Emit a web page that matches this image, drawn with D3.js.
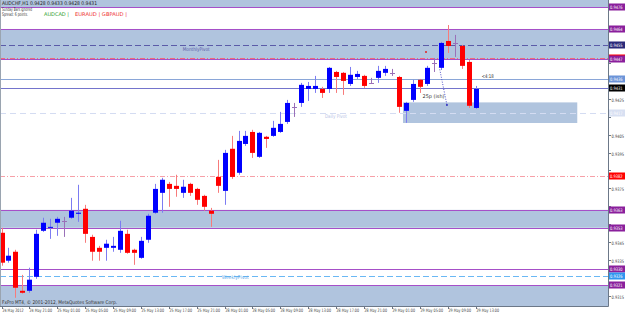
<!DOCTYPE html>
<html><head><meta charset="utf-8">
<script src="https://cdn.jsdelivr.net/npm/d3@7"></script>
<style>body{margin:0;background:#fff}svg{display:block}text{font-family:"DejaVu Sans",sans-serif}</style>
</head><body><svg id="c" width="625" height="313"></svg>
<script>
// ---- data (AUDCHF H1) ----
const open  = [0.93502,0.93346,0.93396,0.93178,0.93178,0.93256,0.93513,0.93530,0.93558,0.93569,0.93586,0.93608,0.93636,0.93479,0.93418,0.93418,0.93418,0.93407,0.93496,0.93407,0.93362,0.93463,0.93614,0.93725,0.93775,0.93764,0.93725,0.93775,0.93747,0.93708,0.93625,0.93814,0.93736,0.93971,0.93837,0.93998,0.94065,0.93926,0.94038,0.94043,0.94065,0.94121,0.94205,0.94227,0.94305,0.94305,0.94305,0.94305,0.94400,0.94395,0.94333,0.94372,0.94378,0.94339,0.94367,0.94395,0.94395,0.94372,0.94183,0.94244,0.94356,0.94333,0.94450,0.94423,0.94573,0.94562,0.94545,0.94456,0.94199];
const high  = [0.93530,0.93418,0.93407,0.93267,0.93307,0.93519,0.93586,0.93580,0.93591,0.93591,0.93697,0.93770,0.93658,0.93491,0.93429,0.93463,0.93479,0.93569,0.93519,0.93413,0.93479,0.93608,0.93775,0.93809,0.93786,0.93826,0.93798,0.93781,0.93753,0.93714,0.93641,0.93909,0.93965,0.94043,0.94071,0.94071,0.94077,0.94065,0.94043,0.94127,0.94177,0.94244,0.94227,0.94339,0.94344,0.94378,0.94317,0.94428,0.94406,0.94400,0.94428,0.94406,0.94384,0.94367,0.94434,0.94434,0.94417,0.94378,0.94233,0.94356,0.94361,0.94434,0.94478,0.94568,0.94662,0.94607,0.94551,0.94467,0.94322];
const low   = [0.93318,0.93335,0.93139,0.93162,0.93167,0.93245,0.93507,0.93468,0.93485,0.93479,0.93580,0.93563,0.93446,0.93346,0.93346,0.93346,0.93396,0.93390,0.93385,0.93323,0.93357,0.93446,0.93608,0.93614,0.93647,0.93703,0.93697,0.93708,0.93658,0.93625,0.93535,0.93725,0.93658,0.93803,0.93826,0.93987,0.93920,0.93920,0.93976,0.94038,0.94060,0.94110,0.94149,0.94205,0.94238,0.94283,0.94255,0.94283,0.94283,0.94272,0.94322,0.94361,0.94311,0.94333,0.94339,0.94378,0.94378,0.94172,0.94116,0.94233,0.94283,0.94322,0.94400,0.94411,0.94506,0.94484,0.94417,0.94199,0.94194];
const close = [0.93335,0.93374,0.93195,0.93167,0.93240,0.93496,0.93558,0.93535,0.93580,0.93569,0.93625,0.93614,0.93496,0.93396,0.93396,0.93441,0.93429,0.93513,0.93390,0.93390,0.93457,0.93597,0.93747,0.93798,0.93747,0.93747,0.93759,0.93725,0.93686,0.93647,0.93608,0.93764,0.93948,0.93814,0.94015,0.94043,0.93948,0.94060,0.94026,0.94088,0.94110,0.94227,0.94205,0.94328,0.94322,0.94322,0.94283,0.94423,0.94372,0.94350,0.94384,0.94389,0.94322,0.94339,0.94406,0.94417,0.94395,0.94205,0.94227,0.94333,0.94317,0.94423,0.94450,0.94562,0.94545,0.94562,0.94434,0.94211,0.94305];

const timeTickBars   = [0,4,8,12,16,20,24,28,32,36,40,44,48,52,56,60,64,68];
const timeTickLabels = ["24 May 2012","24 May 21:00","25 May 01:00","25 May 05:00","25 May 09:00","25 May 13:00","25 May 17:00","25 May 21:00","28 May 01:00","28 May 05:00","28 May 09:00","28 May 13:00","28 May 17:00","28 May 21:00","29 May 01:00","29 May 05:00","29 May 09:00","29 May 13:00"];
const priceTicks = [0.9475,0.9465,0.9455,0.9445,0.9435,0.9425,0.9415,0.9405,0.9395,0.9385,0.9375,0.9365,0.9355,0.9345,0.9335,0.9325,0.9315];

const zoneLow  = [0.9476, 0.9447, 0.9353, 0.9300];
const zoneHigh = [0.9500, 0.9464, 0.9363, 0.9321];
const levelValues = [0.9476,0.9464,0.9455,0.9448,0.9447,0.9436,0.9431,0.9417,0.9382,0.9363,0.9353,0.9330,0.9326,0.9321];
const levelKinds  = ["zone","zone","monthly","reddash","zone","blue","bid","daily","reddash2","zone","zone","zone","weekly","zone"];
const boxBars = [57.6, 82.6];
const boxPrices = [0.9423, 0.94115];

const W=625,H=313, PR=608, PB=306;
const svg=d3.select("#c");
const x=d3.scaleLinear().domain([0,68]).range([1.5,475.5]);
const y=d3.scaleLinear().domain([0.9335,0.9445]).range([260,63]);

svg.append("rect").attr("width",W).attr("height",H).attr("fill","#fff");
svg.append("defs").append("clipPath").attr("id","pl").append("rect").attr("x",0).attr("y",0).attr("width",PR).attr("height",PB);
const g=svg.append("g").attr("clip-path","url(#pl)");

const BAND="#b0c4de";
zoneLow.forEach((lo,i)=>{
  g.append("rect").attr("x",0).attr("width",PR)
   .attr("y",y(zoneHigh[i])).attr("height",y(lo)-y(zoneHigh[i])).attr("fill",BAND);
});
g.append("rect").attr("x",x(boxBars[0])).attr("width",x(boxBars[1])-x(boxBars[0]))
 .attr("y",y(boxPrices[0])).attr("height",y(boxPrices[1])-y(boxPrices[0])).attr("fill",BAND);

const style={
  zone:{c:"#a64fc8",d:null,w:1},
  monthly:{c:"#5b5ba8",d:"6,3",w:1},
  reddash:{c:"#f06a78",d:"5,2,1,2",w:1},
  reddash2:{c:"#f7a0a8",d:"5,2,1,2",w:1},
  blue:{c:"#8aa6d8",d:null,w:1},
  bid:{c:"#7474cc",d:null,w:1},
  daily:{c:"#d4dcf2",d:"6,4",w:1},
  weekly:{c:"#6ab8f4",d:"6,3",w:1}
};
levelValues.forEach((v,i)=>{
  const s=style[levelKinds[i]];
  const yy=Math.round(y(v))+0.5;
  g.append("line").attr("x1",0).attr("x2",PR).attr("y1",yy).attr("y2",yy)
   .attr("stroke",s.c).attr("stroke-width",s.w).attr("stroke-dasharray",s.d);
});

// candles
const bw=5;
open.forEach((o,i)=>{
  const c=close[i], cx=Math.round(x(i))+0.5;
  const up=c>o, dn=c<o;
  const wick= up?"#7c7cf2":(dn?"#f77b7b":"#9a70b8");
  g.append("line").attr("x1",cx).attr("x2",cx).attr("y1",y(high[i])).attr("y2",y(low[i]))
   .attr("stroke",wick).attr("stroke-width",1);
  if(up||dn){
    const t=y(Math.max(o,c)), b=y(Math.min(o,c));
    g.append("rect").attr("x",cx-bw/2).attr("width",bw).attr("y",t).attr("height",Math.max(1,b-t))
     .attr("fill",up?"#0000ff":"#ff0000");
  } else {
    g.append("line").attr("x1",cx-2.5).attr("x2",cx+2.5).attr("y1",Math.round(y(o))+0.5).attr("y2",Math.round(y(o))+0.5)
     .attr("stroke","#9a70b8");
  }
});

function txt(p,str,xx,yy,size,col,len){
  const t=p.append("text").attr("x",xx).attr("y",yy).attr("font-size",size).attr("fill",col).text(str);
  if(len) t.attr("textLength",len).attr("lengthAdjust","spacingAndGlyphs");
  return t;
}
txt(g,"MonthlyPivot",x(26),y(0.94535)+3,5,"#5b5ba8",27);
txt(g,"Daily Pivot",x(46.4),y(0.94155)+2,5,"#b8c4e6",22);
txt(g,"WeeklyPivot",x(31.6),y(0.93262)+3,5,"#5aa8e8",27);
txt(g,"25p (ish)",x(60.4),y(0.94215)-7,5,"#333",22);
txt(g,"<4:18",x(68.9),y(0.94365),5,"#333",12);
g.append("line").attr("x1",x(62.8)).attr("y1",y(0.94428)).attr("x2",x(63.9)).attr("y2",y(0.94216))
 .attr("stroke","#5050c8").attr("stroke-dasharray","1,1.5");
g.append("circle").attr("cx",x(63.9)).attr("cy",y(0.94216)).attr("r",1).attr("fill","#3030c0");
g.append("circle").attr("cx",x(60.9)).attr("cy",y(0.94512)).attr("r",1).attr("fill","#e02020");

txt(svg,"AUDCHF,H1  0.9428 0.9433 0.9428 0.9431",2,5,5,"#222",95);
txt(svg,"Sunday Bars ignored",2,11,5,"#333",30);
txt(svg,"Spread: 6 points.",2,15.5,5,"#333",26);
txt(svg,"AUDCAD |",44,15.5,5,"#2ea02e",25);
txt(svg,"EURAUD | GBPAUD |",75,15.5,5,"#ee3030",52);
txt(svg,"FxPro MT4, © 2001-2012, MetaQuotes Software Corp.",2,303.5,5,"#333",115);

svg.append("line").attr("x1",0.5).attr("x2",0.5).attr("y1",0).attr("y2",PB).attr("stroke","#9aa4b0");
svg.append("line").attr("x1",PR+0.5).attr("x2",PR+0.5).attr("y1",0).attr("y2",PB+0.5).attr("stroke","#6c7888");
svg.append("line").attr("x1",0).attr("x2",PR+0.5).attr("y1",PB+0.5).attr("y2",PB+0.5).attr("stroke","#6c7888");

const ya=svg.append("g");
const tagYs=levelValues.map(v=>y(v));
priceTicks.forEach(p=>{
  const yy=Math.round(y(p))+0.5;
  if(yy<2||yy>PB) return;
  ya.append("line").attr("x1",PR).attr("x2",PR+3).attr("y1",yy).attr("y2",yy).attr("stroke","#6c7888");
  if(tagYs.some(t=>Math.abs(t-yy)<6)) return;
  txt(ya,p.toFixed(4),PR+3.5,yy+2,4.6,"#444",12.5);
});
const tagCol={zone:"#8a1f9c",monthly:"#2a2a7a",reddash:"#ff0000",reddash2:"#ff0000",blue:"#6c94d8",bid:"#000",daily:"#d8e0f2",weekly:"#2e96f0"};
levelValues.forEach((v,i)=>{
  const k=levelKinds[i], yy=Math.round(y(v));
  ya.append("rect").attr("x",PR+1).attr("y",yy-3.5).attr("width",W-PR-1).attr("height",7).attr("fill",tagCol[k]);
  txt(ya,v.toFixed(4),PR+2,yy+2,4.6,"#fff",12.5);
});

const xa=svg.append("g");
timeTickBars.forEach((b,i)=>{
  const xx=Math.round(x(b))+0.5;
  xa.append("line").attr("x1",xx).attr("x2",xx).attr("y1",PB).attr("y2",PB+3).attr("stroke","#6c7888");
  txt(xa,timeTickLabels[i],xx,312,4.6,"#444",i===0?21:22.5);
});
</script></body></html>
